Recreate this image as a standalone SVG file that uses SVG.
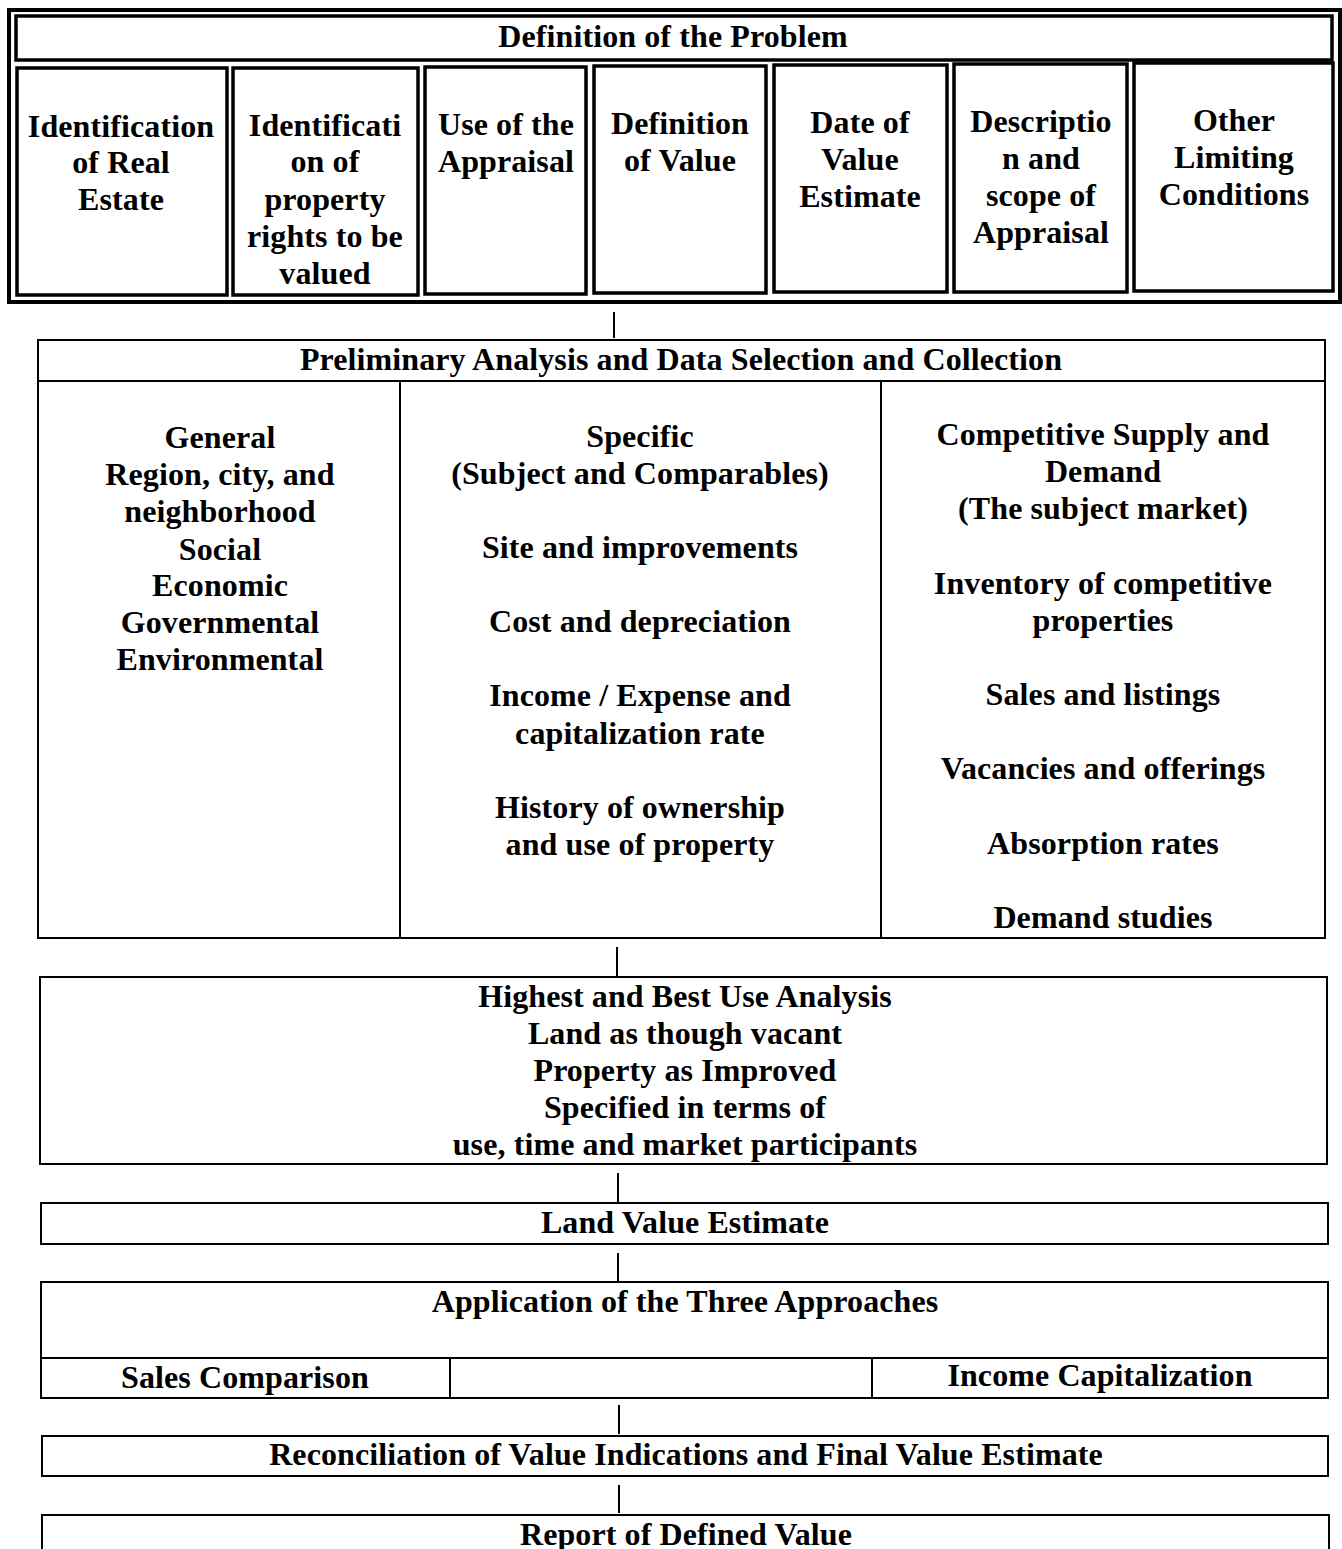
<svg xmlns="http://www.w3.org/2000/svg" width="1342" height="1549" viewBox="0 0 1342 1549">
<style>
.t{font-family:"Liberation Serif","Times New Roman",serif;font-weight:bold;font-size:32px;letter-spacing:0.1px;fill:#000;text-anchor:middle}
.b4{fill:none;stroke:#000;stroke-width:4}
.b3{fill:none;stroke:#000;stroke-width:3.5}
.b2{fill:none;stroke:#000;stroke-width:2}
.c{stroke:#000;stroke-width:2}
</style>
<rect width="1342" height="1549" fill="#fff"/>
<g id="problem">
<rect class="b4" x="9" y="10" width="1331" height="292"/>
<rect class="b3" x="16" y="16" width="1316" height="44"/>
<text class="t" x="673" y="47">Definition of the Problem</text>
</g>
<g id="col1">
<rect class="b3" x="17" y="68" width="210" height="227"/>
<text class="t" x="121" y="137">Identification</text>
<text class="t" x="121" y="173">of Real</text>
<text class="t" x="121" y="210">Estate</text>
</g>
<g id="col2">
<rect class="b3" x="233" y="68" width="185" height="227"/>
<text class="t" x="325" y="136">Identificati</text>
<text class="t" x="325" y="172">on of</text>
<text class="t" x="325" y="210">property</text>
<text class="t" x="325" y="247">rights to be</text>
<text class="t" x="325" y="284">valued</text>
</g>
<g id="col3">
<rect class="b3" x="425" y="67" width="161" height="227"/>
<text class="t" x="506" y="135">Use of the</text>
<text class="t" x="506" y="172">Appraisal</text>
</g>
<g id="col4">
<rect class="b3" x="594" y="66" width="172" height="227"/>
<text class="t" x="680" y="134">Definition</text>
<text class="t" x="680" y="171">of Value</text>
</g>
<g id="col5">
<rect class="b3" x="774" y="65" width="173" height="227"/>
<text class="t" x="860" y="133">Date of</text>
<text class="t" x="860" y="170">Value</text>
<text class="t" x="860" y="207">Estimate</text>
</g>
<g id="col6">
<rect class="b3" x="954" y="64" width="173" height="228"/>
<text class="t" x="1041" y="132">Descriptio</text>
<text class="t" x="1041" y="169">n and</text>
<text class="t" x="1041" y="206">scope of</text>
<text class="t" x="1041" y="243">Appraisal</text>
</g>
<g id="col7">
<rect class="b3" x="1134" y="63" width="199" height="228"/>
<text class="t" x="1234" y="131">Other</text>
<text class="t" x="1234" y="168">Limiting</text>
<text class="t" x="1234" y="205">Conditions</text>
</g>
<g id="connectors">
<line class="c" x1="614" y1="312" x2="614" y2="338"/>
<line class="c" x1="617" y1="947" x2="617" y2="976"/>
<line class="c" x1="618" y1="1173" x2="618" y2="1202"/>
<line class="c" x1="618" y1="1253" x2="618" y2="1281"/>
<line class="c" x1="619" y1="1405" x2="619" y2="1434"/>
<line class="c" x1="619" y1="1485" x2="619" y2="1513"/>
</g>
<g id="preliminary">
<rect class="b2" x="38" y="340" width="1287" height="598"/>
<line class="c" x1="38" y1="381" x2="1325" y2="381"/>
<line class="c" x1="400" y1="381" x2="400" y2="938"/>
<line class="c" x1="881" y1="381" x2="881" y2="938"/>
<text class="t" x="681" y="370">Preliminary Analysis and Data Selection and Collection</text>
</g>
<g id="general">
<text class="t" x="220" y="448">General</text>
<text class="t" x="220" y="485">Region, city, and</text>
<text class="t" x="220" y="522">neighborhood</text>
<text class="t" x="220" y="560">Social</text>
<text class="t" x="220" y="596">Economic</text>
<text class="t" x="220" y="633">Governmental</text>
<text class="t" x="220" y="670">Environmental</text>
</g>
<g id="specific">
<text class="t" x="640" y="447">Specific</text>
<text class="t" x="640" y="484">(Subject and Comparables)</text>
<text class="t" x="640" y="558">Site and improvements</text>
<text class="t" x="640" y="632">Cost and depreciation</text>
<text class="t" x="640" y="706">Income / Expense and</text>
<text class="t" x="640" y="744">capitalization rate</text>
<text class="t" x="640" y="818">History of ownership</text>
<text class="t" x="640" y="855">and use of property</text>
</g>
<g id="competitive">
<text class="t" x="1103" y="445">Competitive Supply and</text>
<text class="t" x="1103" y="482">Demand</text>
<text class="t" x="1103" y="519">(The subject market)</text>
<text class="t" x="1103" y="594">Inventory of competitive</text>
<text class="t" x="1103" y="631">properties</text>
<text class="t" x="1103" y="705">Sales and listings</text>
<text class="t" x="1103" y="779">Vacancies and offerings</text>
<text class="t" x="1103" y="854">Absorption rates</text>
<text class="t" x="1103" y="928">Demand studies</text>
</g>
<g id="hbu">
<rect class="b2" x="40" y="977" width="1287" height="187"/>
<text class="t" x="685" y="1007">Highest and Best Use Analysis</text>
<text class="t" x="685" y="1044">Land as though vacant</text>
<text class="t" x="685" y="1081">Property as Improved</text>
<text class="t" x="685" y="1118">Specified in terms of</text>
<text class="t" x="685" y="1155">use, time and market participants</text>
</g>
<g id="land">
<rect class="b2" x="41" y="1203" width="1287" height="41"/>
<text class="t" x="685" y="1233">Land Value Estimate</text>
</g>
<g id="approaches">
<rect class="b2" x="41" y="1282" width="1287" height="116"/>
<line class="c" x1="41" y1="1358" x2="1328" y2="1358"/>
<line class="c" x1="450" y1="1358" x2="450" y2="1398"/>
<line class="c" x1="872" y1="1358" x2="872" y2="1398"/>
<text class="t" x="685" y="1312">Application of the Three Approaches</text>
<text class="t" x="245" y="1388">Sales Comparison</text>
<text class="t" x="1100" y="1386">Income Capitalization</text>
</g>
<g id="reconciliation">
<rect class="b2" x="42" y="1436" width="1286" height="40"/>
<text class="t" x="686" y="1465">Reconciliation of Value Indications and Final Value Estimate</text>
</g>
<g id="report">
<rect class="b2" x="42" y="1515" width="1287" height="60"/>
<text class="t" x="686" y="1545">Report of Defined Value</text>
</g>
</svg>
